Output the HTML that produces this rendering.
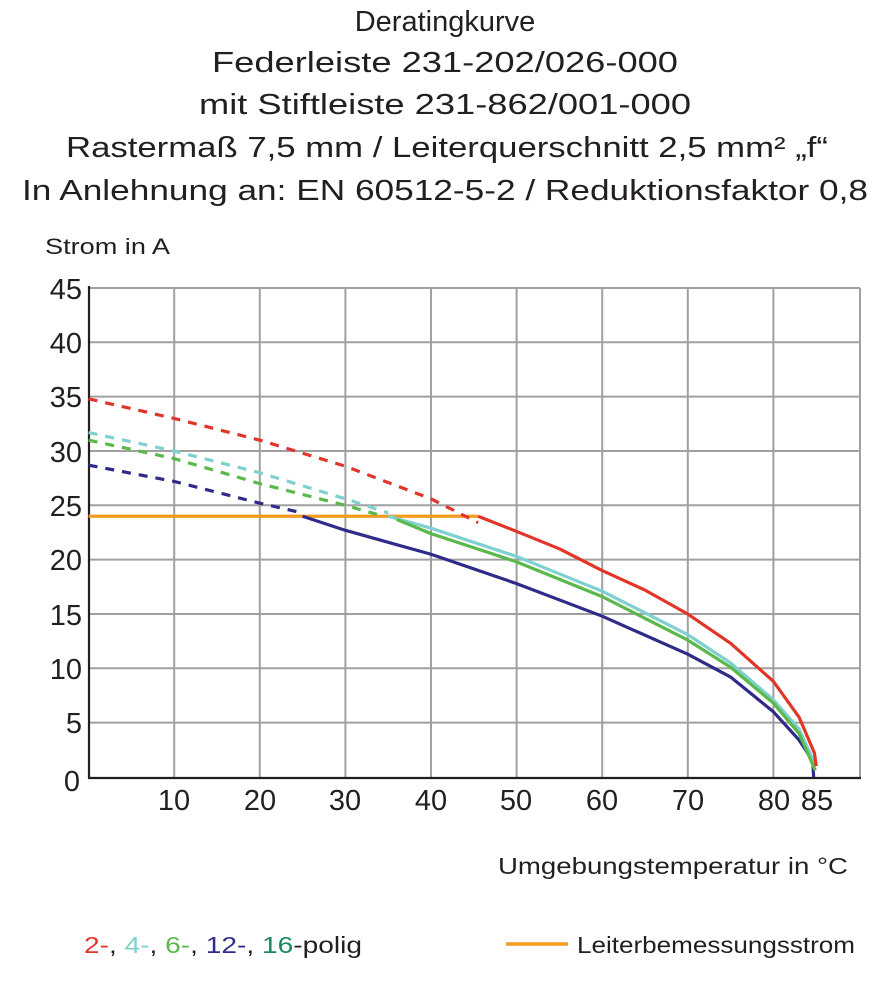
<!DOCTYPE html>
<html><head><meta charset="utf-8"><style>
html,body{margin:0;padding:0;background:#fff;}
svg{display:block;}
text{font-family:"Liberation Sans",sans-serif;fill:#231f20;}
</style></head><body>
<svg width="891" height="1000" viewBox="0 0 891 1000" xmlns="http://www.w3.org/2000/svg">
<g font-size="29" text-anchor="middle">
<text x="445" y="31">Deratingkurve</text>
<text x="445" y="72" textLength="466" lengthAdjust="spacingAndGlyphs">Federleiste 231-202/026-000</text>
<text x="445" y="114" textLength="492" lengthAdjust="spacingAndGlyphs">mit Stiftleiste 231-862/001-000</text>
<text x="447" y="157" textLength="762" lengthAdjust="spacingAndGlyphs">Rastermaß 7,5 mm / Leiterquerschnitt 2,5 mm² „f“</text>
<text x="445" y="200" textLength="846" lengthAdjust="spacingAndGlyphs">In Anlehnung an: EN 60512-5-2 / Reduktionsfaktor 0,8</text>
</g>
<text x="45" y="254" font-size="22" textLength="125" lengthAdjust="spacingAndGlyphs">Strom in A</text>
<g stroke="#a0a0a0" stroke-width="2">
<line x1="89" y1="288" x2="860" y2="288"/><line x1="89" y1="342.3" x2="860" y2="342.3"/><line x1="89" y1="396.6" x2="860" y2="396.6"/><line x1="89" y1="451" x2="860" y2="451"/><line x1="89" y1="505.3" x2="860" y2="505.3"/><line x1="89" y1="559.6" x2="860" y2="559.6"/><line x1="89" y1="614" x2="860" y2="614"/><line x1="89" y1="668.3" x2="860" y2="668.3"/><line x1="89" y1="722.6" x2="860" y2="722.6"/>
<line x1="174.2" y1="288" x2="174.2" y2="777"/><line x1="259.8" y1="288" x2="259.8" y2="777"/><line x1="345.4" y1="288" x2="345.4" y2="777"/><line x1="431" y1="288" x2="431" y2="777"/><line x1="516.6" y1="288" x2="516.6" y2="777"/><line x1="602.2" y1="288" x2="602.2" y2="777"/><line x1="687.8" y1="288" x2="687.8" y2="777"/><line x1="773.4" y1="288" x2="773.4" y2="777"/><line x1="860" y1="288" x2="860" y2="777"/>
</g>
<g stroke="#231f20" stroke-width="2.2">
<line x1="89" y1="286" x2="89" y2="778"/><line x1="88" y1="778" x2="861" y2="778"/>
</g>
<g stroke="#231f20" stroke-width="1.2" id="ticks"></g>
<g transform="translate(88.6,777) scale(8.56,-10.866)" fill="none" stroke-width="3.2" stroke-linejoin="round">
<polyline vector-effect="non-scaling-stroke" stroke="#f39c1f" points="0,24 45.5,24"/>
<polyline vector-effect="non-scaling-stroke" stroke="#e2352a" stroke-dasharray="9,8" points="0,34.8 10,33 20,31 30,28.6 40,25.6 45.5,23.4"/>
<polyline vector-effect="non-scaling-stroke" stroke="#7fd0d0" stroke-dasharray="9,8" points="0,31.7 10,30 20,28 30,25.6 35,24.3"/>
<polyline vector-effect="non-scaling-stroke" stroke="#5bb84a" stroke-dasharray="9,8" points="0,31 10,29.3 20,27 30,25 34,24.1"/>
<polyline vector-effect="non-scaling-stroke" stroke="#2e2c88" stroke-dasharray="9,8" points="0,28.7 10,27.2 20,25.2 25,24.3"/>
<polyline vector-effect="non-scaling-stroke" stroke="#2e2c88" points="25,24 30,22.7 40,20.5 50,17.8 60,14.8 70,11.3 75,9.2 80,6 83,3.4 84.6,1.5 84.7,0"/>
<polyline vector-effect="non-scaling-stroke" stroke="#7fd0d0" points="35,24 40,22.9 50,20.3 60,17.1 70,13.1 75,10.5 80,7.1 83,4.4 85,1"/>
<polyline vector-effect="non-scaling-stroke" stroke="#5bb84a" points="36,23.7 40,22.4 50,19.8 60,16.6 70,12.6 75,10.1 80,6.8 83,4 84.9,0.6"/>
<polyline vector-effect="non-scaling-stroke" stroke="#e2352a" points="45.5,24 50,22.6 55,21 60,19 65,17.2 70,15 75,12.3 80,8.8 83,5.5 84.8,2.2 85,1"/>
</g>
<g font-size="29" text-anchor="end">
<text x="82" y="299">45</text><text x="82" y="353">40</text><text x="82" y="407">35</text><text x="82" y="462">30</text><text x="82" y="516">25</text><text x="82" y="570">20</text><text x="82" y="625">15</text><text x="82" y="679">10</text><text x="82" y="733">5</text><text x="80" y="791">0</text>
</g>
<g font-size="29" text-anchor="middle">
<text x="174" y="810">10</text><text x="260" y="810">20</text><text x="345" y="810">30</text><text x="431" y="810">40</text><text x="516" y="810">50</text><text x="602" y="810">60</text><text x="688" y="810">70</text><text x="774" y="810">80</text><text x="817" y="810">85</text>
</g>
<text x="498" y="874" font-size="23" textLength="350" lengthAdjust="spacingAndGlyphs">Umgebungstemperatur in °C</text>
<text x="84" y="953" font-size="23" textLength="278" lengthAdjust="spacingAndGlyphs"><tspan style="fill:#e2352a">2-</tspan>, <tspan style="fill:#7fd0d0">4-</tspan>, <tspan style="fill:#5bb84a">6-</tspan>, <tspan style="fill:#2e2c88">12-</tspan>, <tspan style="fill:#1b8a5a">16</tspan>-polig</text>
<line x1="506" y1="944" x2="568" y2="944" stroke="#f39c1f" stroke-width="3.5"/>
<text x="577" y="953" font-size="23" textLength="278" lengthAdjust="spacingAndGlyphs">Leiterbemessungsstrom</text>
<script>
var g=document.getElementById('ticks'),s='';
for(var i=1;i<45;i++){var y=777-10.866*i;s+='<line x1="89" y1="'+y+'" x2="93" y2="'+y+'"/>';}
for(var t=2;t<90;t+=2){var x=88.6+8.56*t;s+='<line x1="'+x+'" y1="778" x2="'+x+'" y2="782"/>';}
g.innerHTML=s;
</script>
</svg>
</body></html>
